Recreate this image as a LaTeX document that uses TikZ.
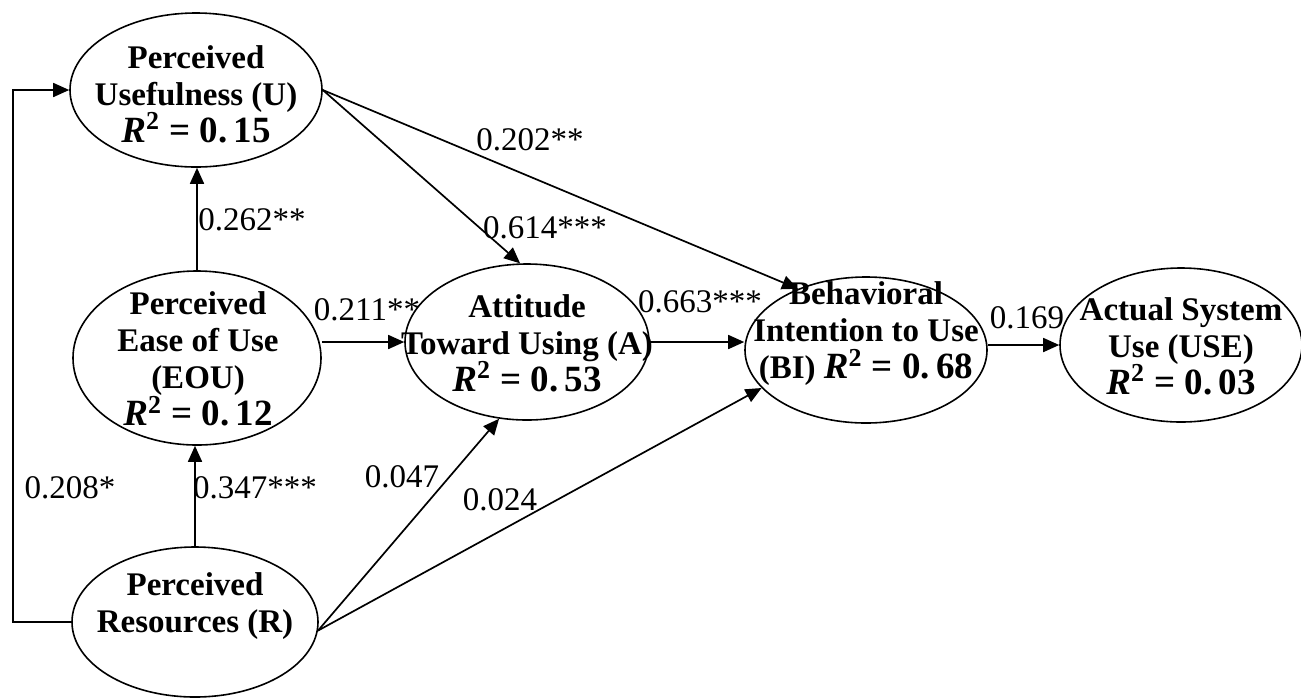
\documentclass[tikz,border=0pt]{standalone}
\usepackage{fontspec}
\setmainfont{Liberation Serif}
\usetikzlibrary{shapes.geometric,arrows.meta}
\newcommand{\rsq}[1]{{\fontsize{18.5}{18.5}\selectfont\textit{R}\textsuperscript{2} = #1}}
\tikzset{
	latent/.style={ellipse, draw, line width=0.8pt, inner sep=0pt},
	txt/.style={align=center, inner sep=0pt, font=\fontsize{16.5}{18.5}\selectfont\bfseries},
	coef/.style={inner sep=0pt, font=\fontsize{16.5}{18.5}\selectfont},
	link/.style={line width=0.85pt, -{Triangle[length=8pt,width=7pt]}}
}
\begin{document}
\begin{tikzpicture}[x=0.5pt,y=-0.5pt]
	\useasboundingbox (0,0) rectangle (1301,698);
	% Define the constructs
	\node[latent, minimum width=126pt, minimum height=77pt] (U) at (196,90) {};
	\node[latent, minimum width=124pt, minimum height=87pt] (EOU) at (197,358) {};
	\node[latent, minimum width=123pt, minimum height=75pt] (R) at (195,622) {};
	\node[latent, minimum width=122pt, minimum height=78pt] (A) at (527,342) {};
	\node[latent, minimum width=121pt, minimum height=73pt] (BI) at (866,350) {};
	\node[latent, minimum width=121pt, minimum height=77pt] (USE) at (1181,345) {};
	% Texts of the constructs
	\node[txt] (Ut) at (196,94) {Perceived\\Usefulness (U)\\\rsq{0.\,15}};
	\node[txt] (EOUt) at (198,359) {Perceived\\Ease of Use\\(EOU)\\\rsq{0.\,12}};
	\node[txt] (Rt) at (195,606) {Perceived\\Resources (R)};
	\node[txt] (At) at (527,343) {Attitude\\Toward Using (A)\\\rsq{0.\,53}};
	\node[txt] (BIt) at (866,334) {Behavioral\\Intention to Use\\(BI) \rsq{0.\,68}};
	\node[txt] (USEt) at (1181,346) {Actual System\\Use (USE)\\\rsq{0.\,03}};
	% Draw the paths
	\draw[link] (R.west) -- ++(-58,0) |- (U.west);
	\draw[link] (R.north) -- (R.north |- EOU.south);
	\draw[link] (EOU.north) -- (EOU.north |- U.south);
	\draw[link] (EOU.east |- A.west) -- (A.west);
	\draw[link] (A.east) -- (A.east -| BI.west);
	\draw[link] (BI.east |- USE.west) -- (USE.west);
	\draw[link] (U.east) -- (A.95);
	\draw[link] (U.east) -- (BI.138);
	\draw[link] (R.-4) -- (A.250);
	\draw[link] (R.-4) -- (BI.200);
	% Add the coefficients
	\node[coef] (cUBI) at (530,140) {0.202**};
	\node[coef] (cUA) at (545,228) {0.614***};
	\node[coef] (cEOUA) at (367,310) {0.211**};
	\node[coef] (cABI) at (700,302) {0.663***};
	\node[coef] (cBIUSE) at (1027,318) {0.169};
	\node[coef] (cEOUU) at (252,220) {0.262**};
	\node[coef] (cREOU) at (255,488) {0.347***};
	\node[coef] (cRU) at (70,488) {0.208*};
	\node[coef] (cRA) at (402,477) {0.047};
	\node[coef] (cRBI) at (500,500) {0.024};
\end{tikzpicture}
\end{document}
